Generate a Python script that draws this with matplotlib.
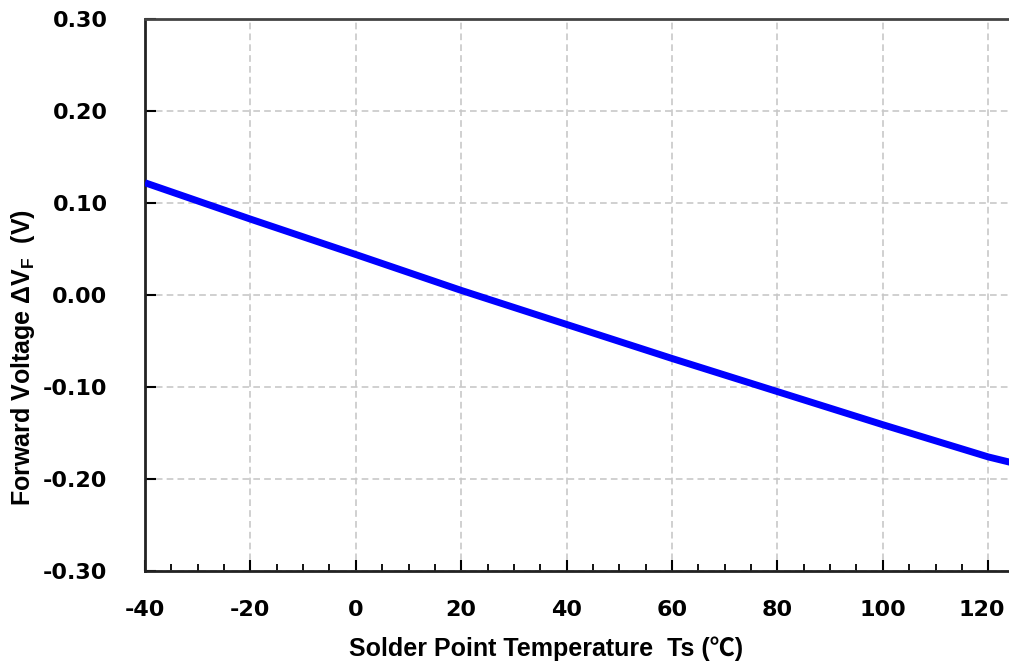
import matplotlib
matplotlib.use('Agg')
import matplotlib.pyplot as plt
from matplotlib.ticker import MultipleLocator, FormatStrFormatter
from matplotlib.transforms import ScaledTranslation

# data
temps = [-40, -20, 0, 20, 40, 60, 80, 100, 120, 125]
dvf = [0.122, 0.0825, 0.044, 0.005, -0.032, -0.069, -0.105, -0.141, -0.176, -0.183]

xticks = [-40, -20, 0, 20, 40, 60, 80, 100, 120]
yticks = [-0.30, -0.20, -0.10, 0.00, 0.10, 0.20, 0.30]

plt.rcParams['font.family'] = ['DejaVu Sans', 'Noto Sans CJK SC']
plt.rcParams['axes.unicode_minus'] = False

fig = plt.figure(figsize=(10.09, 6.69), dpi=100)
ax = fig.add_axes([145/1009, 1-571/669, 869.6/1009, 552/669])

ax.plot(temps, dvf, color='#0000ff', linewidth=5, solid_capstyle='butt', zorder=3)

ax.set_xlim(-40, 125)
ax.set_ylim(-0.30, 0.30)
ax.set_xticks(xticks)
ax.set_yticks(yticks)
ax.xaxis.set_minor_locator(MultipleLocator(5))
ax.yaxis.set_major_formatter(FormatStrFormatter('%.2f'))

ax.grid(True, which='major', color='#c8c8c8', linestyle=(0, (4, 2.5)), linewidth=1.2)
ax.set_axisbelow(True)

ax.tick_params(axis='both', which='major', direction='in', length=8, width=1.5,
               labelsize=16, colors='black')
ax.tick_params(axis='x', which='minor', direction='in', length=5, width=1.3)
ax.tick_params(axis='x', which='major', pad=21)
ax.tick_params(axis='y', which='major', pad=27)
for lab in ax.get_xticklabels() + ax.get_yticklabels():
    lab.set_fontweight('bold')

# the last x label sits a little left so it stays inside the picture
last = ax.get_xticklabels()[-1]
last.set_transform(last.get_transform() + ScaledTranslation(-6/100, 0, fig.dpi_scale_trans))

for s in ['left', 'bottom']:
    ax.spines[s].set_linewidth(2)
    ax.spines[s].set_color('#222222')
ax.spines['top'].set_linewidth(2)
ax.spines['top'].set_color('#444444')
ax.spines['right'].set_visible(False)

ax.set_xlabel('Solder Point Temperature  Ts (℃)', fontsize=18, fontweight='bold',
              family=['Liberation Sans', 'Noto Sans CJK SC'])
ax.xaxis.set_label_coords(0.4617, -0.118)
ax.set_ylabel(r'Forward Voltage ΔV$_{\mathregular{F}}$  (V)', fontsize=18, fontweight='bold',
              family=['Liberation Sans', 'DejaVu Sans'])
ax.yaxis.set_label_coords(-0.124, 0.386)

fig.savefig('out.png', dpi=100)
